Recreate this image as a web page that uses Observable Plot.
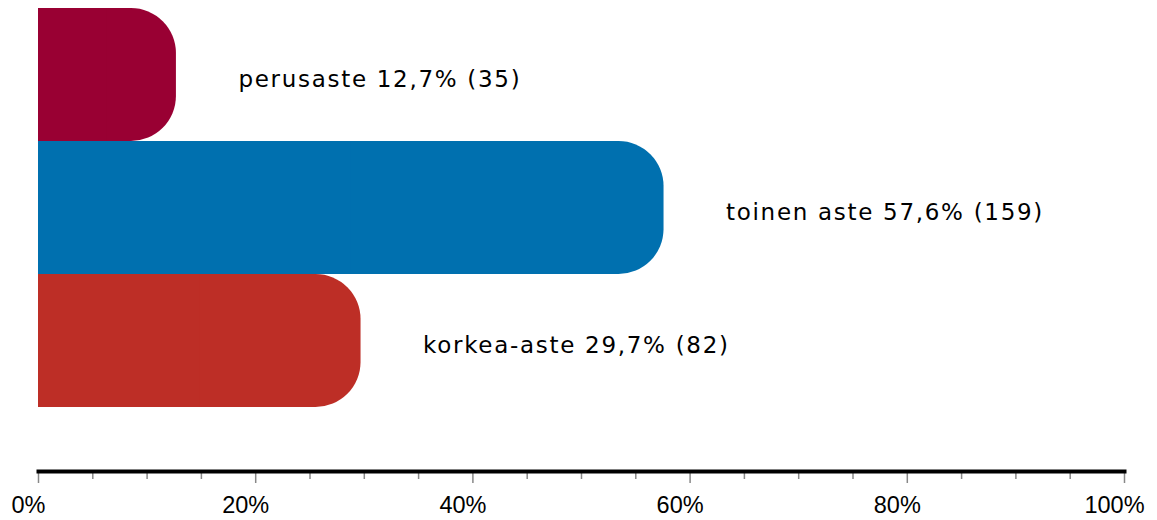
<!DOCTYPE html>
<html>
<head>
<meta charset="utf-8">
<script src="https://cdn.jsdelivr.net/npm/d3@7"></script>
<script src="https://cdn.jsdelivr.net/npm/@observablehq/plot@0.6"></script>
<style>
  html, body { margin: 0; padding: 0; background: #fff; }
  #chart { width: 1157px; height: 520px; }
  .barlabel text { letter-spacing: 1.7px; }
</style>
</head>
<body>
<div id="chart"></div>
<script>
const categories = ["perusaste", "toinen aste", "korkea-aste"];
const percents = [12.7, 57.6, 29.7];
const counts = [35, 159, 82];
const colors = ["#990033", "#0070AF", "#BD2E26"];
const majorTicks = [0, 20, 40, 60, 80, 100];
const minorTicks = [5, 10, 15, 25, 30, 35, 45, 50, 55, 65, 70, 75, 85, 90, 95];

const data = categories.map((c, i) => ({
  cat: c,
  pct: percents[i],
  n: counts[i],
  color: colors[i],
  label: `${c} ${String(percents[i]).replace(".", ",")}% (${counts[i]})`
}));

const chart = Plot.plot({
  width: 1157,
  height: 520,
  marginLeft: 38,
  marginRight: 33,
  marginTop: 0,
  marginBottom: 49,
  x: {domain: [0, 100], label: null},
  y: {domain: categories, range: [7, 407], padding: 0, axis: null},
  style: {fontFamily: "'Liberation Sans', Arial, sans-serif", background: "#fff"},
  marks: [
    Plot.barX(data, {y: "cat", x1: 0, x2: "pct", fill: "color", rx: 45, ry: 45}),
    Plot.barX(data, {y: "cat", x1: 0, x2: d => d.pct / 2, fill: "color"}),
    Plot.text(data, {
      y: "cat", x: "pct", text: "label", textAnchor: "start", dx: 62, dy: 5,
      fontSize: 23, fill: "#000", fontFamily: "'DejaVu Sans', Verdana, sans-serif",
      className: "barlabel"
    }),
    Plot.axisX({ticks: minorTicks, tickSize: 8, stroke: "#888", tickFormat: () => "", strokeWidth: 1.5, label: null}),
    Plot.axisX({ticks: majorTicks, tickSize: 12, stroke: "#888", strokeWidth: 1.5, tickFormat: () => "", label: null}),
    Plot.axisX({ticks: majorTicks, tickSize: 0, tickPadding: 25, dx: -10,
      tickFormat: d => d + "%", fontSize: 23.5, fill: "#000", label: null}),
    Plot.frame({anchor: "bottom", stroke: "#000", strokeWidth: 4})
  ]
});
document.getElementById("chart").appendChild(chart);
</script>
</body>
</html>
